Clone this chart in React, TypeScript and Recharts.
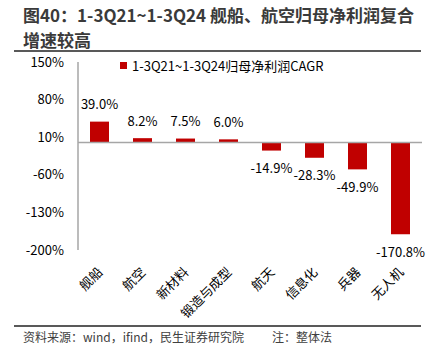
import { BarChart, Bar, XAxis, YAxis, ReferenceLine, LabelList } from 'recharts'

const categories = ['舰船', '航空', '新材料', '锻造与成型', '航天', '信息化', '兵器', '无人机']
const cagr = [39.0, 8.2, 7.5, 6.0, -14.9, -28.3, -49.9, -170.8]
const yTicks = [150, 80, 10, -60, -130, -200]

const seriesName = '1-3Q21~1-3Q24归母净利润CAGR'
const data = categories.map((name, i) => ({ name, value: cagr[i] }))

const font = '"Noto Sans CJK SC", "Noto Sans", sans-serif'
const red = '#c00000'
const axisGrey = '#a6a6a6'

const CategoryTick = (props: any) => {
  const { x, y, payload } = props
  return (
    <g transform={`translate(${x + 4},${y + 15})`}>
      <text x={0} y={0} textAnchor="end" transform="rotate(-45)" fontSize={13} fill="#000" fontFamily={font}>
        {payload.value}
      </text>
    </g>
  )
}

const ValueLabel = (props: any) => {
  const { x, y, width, height, value } = props
  const top = Math.min(y, y + height)
  const bottom = Math.max(y, y + height)
  const cx = x + width / 2
  const cy = value >= 0 ? top - 17 : bottom + 18
  return (
    <text x={cx} y={cy} dy="0.35em" textAnchor="middle" fontSize={13} fill="#000" fontFamily={font}>
      {value.toFixed(1)}%
    </text>
  )
}

const titleStyle = { position: 'absolute' as const, left: 23, fontSize: 17, fontWeight: 700, lineHeight: '20px', color: '#3a3a3a', whiteSpace: 'nowrap' as const }

export default function App() {
  return (
    <div style={{ position: 'absolute', left: 0, top: 0, width: 438, height: 359, background: '#fff', fontFamily: font }}>
      <div style={{ ...titleStyle, top: 5 }}>图40：1-3Q21~1-3Q24 舰船、航空归母净利润复合</div>
      <div style={{ ...titleStyle, top: 30 }}>增速较高</div>
      <div style={{ position: 'absolute', left: 14, top: 50, width: 407, height: 2, background: '#595959' }} />

      <div style={{ position: 'absolute', left: 0, top: 0 }}>
        <BarChart width={438} height={324} data={data} margin={{ top: 62, right: 16, bottom: 4, left: 0 }}>
          <XAxis dataKey="name" axisLine={false} tickLine={false} interval={0} height={70} tick={<CategoryTick />} />
          <YAxis
            type="number"
            domain={[-200, 150]}
            ticks={yTicks}
            width={78}
            tickLine={false}
            tickMargin={8}
            axisLine={{ stroke: axisGrey, strokeWidth: 1.5 }}
            tick={{ fontSize: 13, fill: '#000', fontFamily: font }}
            tickFormatter={(v: number) => `${v}%`}
          />
          <ReferenceLine y={0} stroke={axisGrey} strokeWidth={1.5} />
          <Bar dataKey="value" name={seriesName} fill={red} barSize={19} isAnimationActive={false}>
            <LabelList dataKey="value" content={<ValueLabel />} />
          </Bar>
        </BarChart>
      </div>

      <div style={{ position: 'absolute', left: 120, top: 56, display: 'flex', alignItems: 'center', fontSize: 13, color: '#000', whiteSpace: 'nowrap' }}>
        <span style={{ display: 'inline-block', width: 7, height: 7, background: red, marginRight: 5 }} />
        {seriesName}
      </div>

      <div style={{ position: 'absolute', left: 14, top: 325, width: 407, height: 1.5, background: '#595959' }} />
      <div style={{ position: 'absolute', left: 23, top: 328, fontSize: 12, color: '#404040', whiteSpace: 'nowrap' }}>
        资料来源：wind，ifind，民生证券研究院<span style={{ marginLeft: 28 }}>注：整体法</span>
      </div>
    </div>
  )
}
